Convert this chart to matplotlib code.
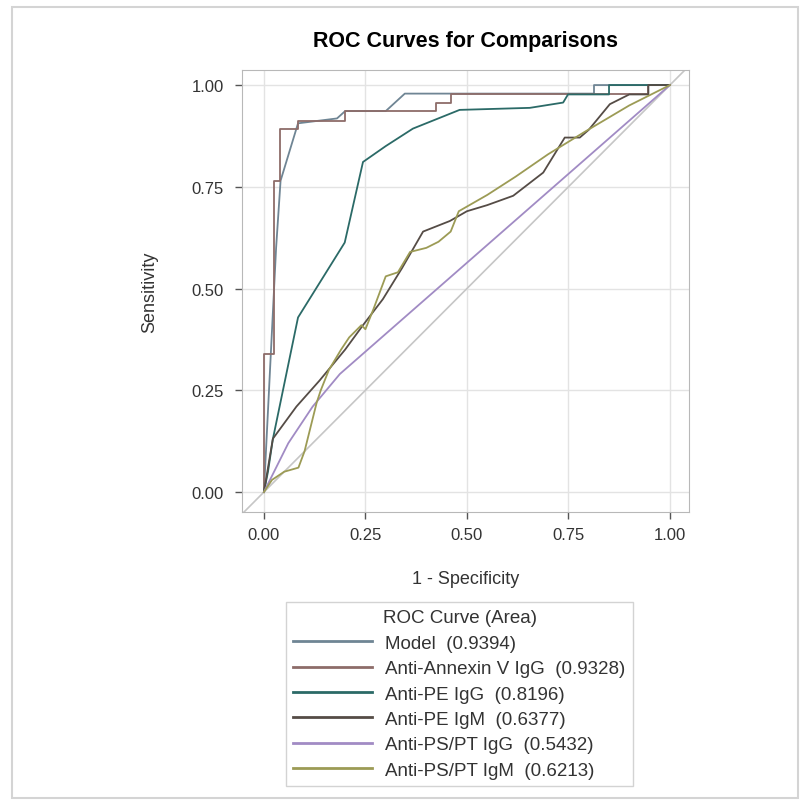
import matplotlib
matplotlib.use("Agg")
import matplotlib.pyplot as plt
from matplotlib.patches import Rectangle
from matplotlib.lines import Line2D

plt.rcParams['font.family'] = ['Liberation Sans', 'DejaVu Sans']

# data
names = ['Model', 'Anti-Annexin V IgG', 'Anti-PE IgG', 'Anti-PE IgM',
         'Anti-PS/PT IgG', 'Anti-PS/PT IgM']
areas = [0.9394, 0.9328, 0.8196, 0.6377, 0.5432, 0.6213]
colors = ['#6f8594', '#8d6c69', '#2b6a67', '#554c46', '#a18bc4', '#9c9b55']

model_x = [0, 0.01, 0.03, 0.041, 0.084, 0.18, 0.20, 0.30, 0.347, 0.813, 0.813, 1]
model_y = [0, 0.2, 0.6, 0.765, 0.906, 0.918, 0.936, 0.936, 0.979, 0.979, 1.0, 1]

annexin_x = [0, 0, 0.025, 0.025, 0.039, 0.039, 0.084, 0.084, 0.20, 0.20, 0.425,
             0.425, 0.462, 0.462, 0.947, 0.947, 1]
annexin_y = [0, 0.34, 0.34, 0.765, 0.765, 0.893, 0.893, 0.912, 0.912, 0.936, 0.936,
             0.957, 0.957, 0.979, 0.979, 1.0, 1]

pe_igg_x = [0, 0.01, 0.022, 0.084, 0.199, 0.244, 0.30, 0.367, 0.482, 0.655, 0.737,
            0.749, 0.85, 0.85, 1]
pe_igg_y = [0, 0.05, 0.13, 0.429, 0.613, 0.811, 0.85, 0.893, 0.939, 0.944, 0.957,
            0.977, 0.977, 1.0, 1]

pe_igm_x = [0, 0.022, 0.08, 0.137, 0.2, 0.244, 0.293, 0.34, 0.392, 0.458, 0.5,
            0.55, 0.614, 0.688, 0.741, 0.778, 0.80, 0.852, 0.9, 0.947, 0.947, 1]
pe_igm_y = [0, 0.131, 0.21, 0.274, 0.35, 0.41, 0.474, 0.55, 0.64, 0.666, 0.69,
            0.705, 0.728, 0.785, 0.871, 0.871, 0.89, 0.953, 0.977, 0.977, 1.0, 1]

pspt_igg_x = [0, 0.02, 0.06, 0.12, 0.187, 1]
pspt_igg_y = [0, 0.04, 0.12, 0.21, 0.29, 1]

pspt_igm_x = [0, 0.02, 0.05, 0.085, 0.10, 0.115, 0.13, 0.14, 0.16, 0.19, 0.21, 0.24,
              0.25, 0.27, 0.30, 0.33, 0.36, 0.40, 0.43, 0.46, 0.48, 0.55, 0.62, 0.70,
              0.79, 0.9, 1]
pspt_igm_y = [0, 0.03, 0.05, 0.06, 0.10, 0.16, 0.22, 0.25, 0.30, 0.35, 0.38, 0.41,
              0.40, 0.45, 0.53, 0.54, 0.59, 0.60, 0.615, 0.64, 0.69, 0.73, 0.775, 0.83,
              0.885, 0.95, 1]

curves = [(model_x, model_y), (annexin_x, annexin_y), (pe_igg_x, pe_igg_y),
          (pe_igm_x, pe_igm_y), (pspt_igg_x, pspt_igg_y), (pspt_igm_x, pspt_igm_y)]

ticks = [0.0, 0.25, 0.5, 0.75, 1.0]

fig = plt.figure(figsize=(8.03, 8.03), dpi=100)
fig.patches.append(Rectangle((12 / 803, 4 / 803), 786 / 803, 791 / 803,
                             transform=fig.transFigure, fill=False,
                             edgecolor='#d4d4d4', linewidth=1.5))

ax = fig.add_axes([242 / 803, 1 - 513 / 803, 447 / 803, 442 / 803])
ax.set_xlim(-0.054, 1.047)
ax.set_ylim(-0.049, 1.037)

# reference diagonal
ax.plot([-0.06, 1.06], [-0.06, 1.06], color='#c6c6c6', linewidth=1.2, zorder=1)

for (x, y), c in zip(curves, colors):
    ax.plot(x, y, color=c, linewidth=1.3, zorder=3)

ax.set_xticks(ticks)
ax.set_yticks(ticks)
ax.set_xticklabels([f"{t:.2f}" for t in ticks])
ax.set_yticklabels([f"{t:.2f}" for t in ticks])
ax.grid(True, color='#e3e3e3', linewidth=1)
ax.set_axisbelow(True)
ax.tick_params(labelsize=12, colors='#555555', length=5, width=1,
               labelcolor='#333333')
ax.tick_params(axis='y', pad=8)
ax.tick_params(axis='x', pad=6)
for s in ax.spines.values():
    s.set_color('#b8b8b8')

ax.set_xlabel('1 - Specificity', fontsize=13, color='#333333', labelpad=20)
ax.set_ylabel('Sensitivity', fontsize=13, color='#333333', labelpad=24)
ax.set_title('ROC Curves for Comparisons', fontsize=15.5, fontweight='bold', pad=17)

handles = [Line2D([], [], color=c, linewidth=2) for c in colors]
labels = [f"{n}  ({a:.4f})" for n, a in zip(names, areas)]
leg = fig.legend(handles, labels, title='ROC Curve (Area)', loc='upper left',
                 bbox_to_anchor=(286 / 803, 1 - 603 / 803), fontsize=13.5,
                 title_fontsize=13.5, frameon=True, fancybox=False,
                 handlelength=4.2, handletextpad=0.7, labelspacing=0.44,
                 borderpad=0.4, borderaxespad=0, edgecolor='#c8c8c8')
leg.get_frame().set_linewidth(1)
for t in leg.get_texts():
    t.set_color('#333333')
leg.get_title().set_color('#333333')

fig.savefig('out.png', dpi=100)
